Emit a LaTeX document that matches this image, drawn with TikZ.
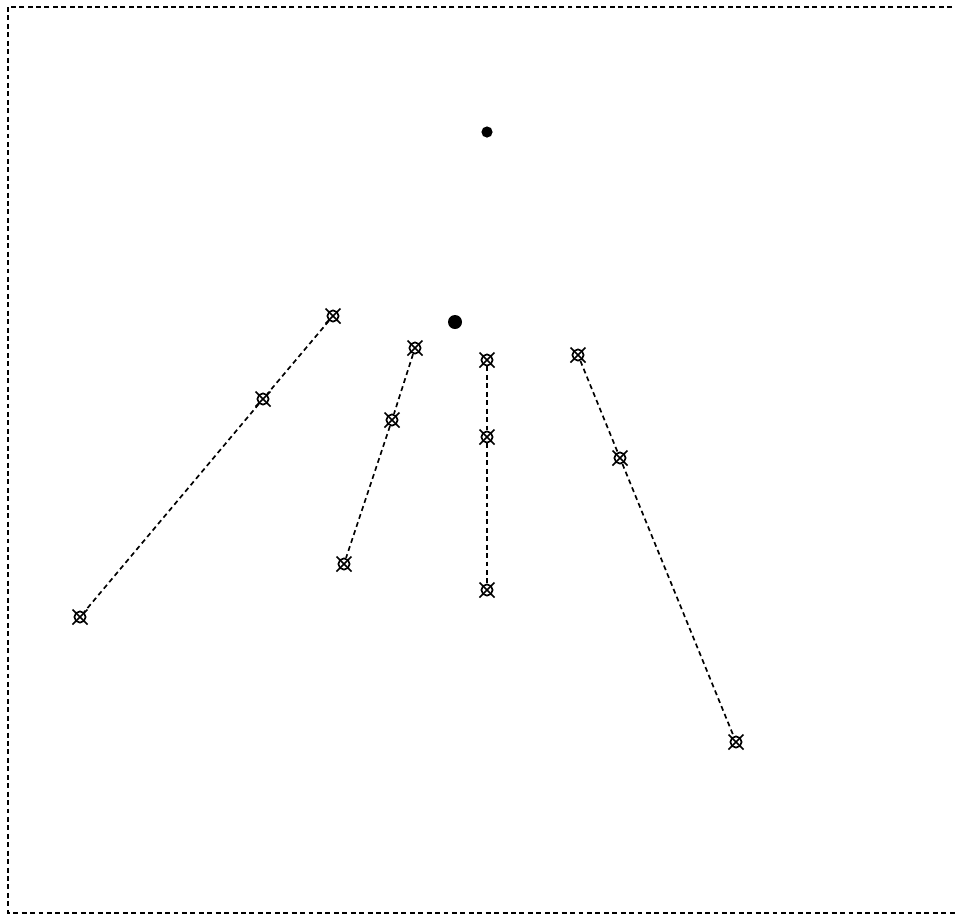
\documentclass[tikz,border=0pt]{standalone}
\usetikzlibrary{positioning}

\begin{document}
\begin{tikzpicture}[x=0.025cm,y=-0.025cm]
            \tikzset{joint/.style={draw, circle, line width=1.2pt, minimum size=0.28cm, inner sep=0pt,
                        append after command={
                            (\tikzlastnode.center) ++(-7.5,-7.5) edge[line width=1.1pt] ++(15,15)
                            (\tikzlastnode.center) ++(-7.5,7.5) edge[line width=1.1pt] ++(15,-15)}},
                     hub/.style={fill, circle, inner sep=0pt},
                     limb/.style={dash pattern=on 3.5pt off 2.5pt, line width=1.2pt}}

            \useasboundingbox (0,0) rectangle (956,916);
            \draw[dash pattern=on 3.5pt off 2.5pt, line width=1.3pt] (8,7) rectangle (962,913);

            % centre points
            \node[hub, minimum size=0.28cm] (top) at (487,132) {};
            \node[hub, minimum size=0.35cm] (mid) at (455,322) {};

            % first chain
            \node[joint] (a1) at (333,316) {};
            \node[joint] (a2) at (263,399) {};
            \node[joint] (a3) at (80,617) {};

            % second chain
            \node[joint] (b1) at (415,348) {};
            \node[joint] (b2) at (392,420) {};
            \node[joint] (b3) at (344,564) {};

            % third chain
            \node[joint] (c1) at (487,360) {};
            \node[joint] (c2) at (487,437) {};
            \node[joint] (c3) at (487,590) {};

            % fourth chain
            \node[joint] (d1) at (578,355) {};
            \node[joint] (d2) at (620,458) {};
            \node[joint] (d3) at (736,742) {};

            \foreach \c in {a,b,c,d}{
                \draw[limb] (\c1) -- (\c2);
                \draw[limb] (\c2) -- (\c3);
            }
        \end{tikzpicture}
\end{document}
